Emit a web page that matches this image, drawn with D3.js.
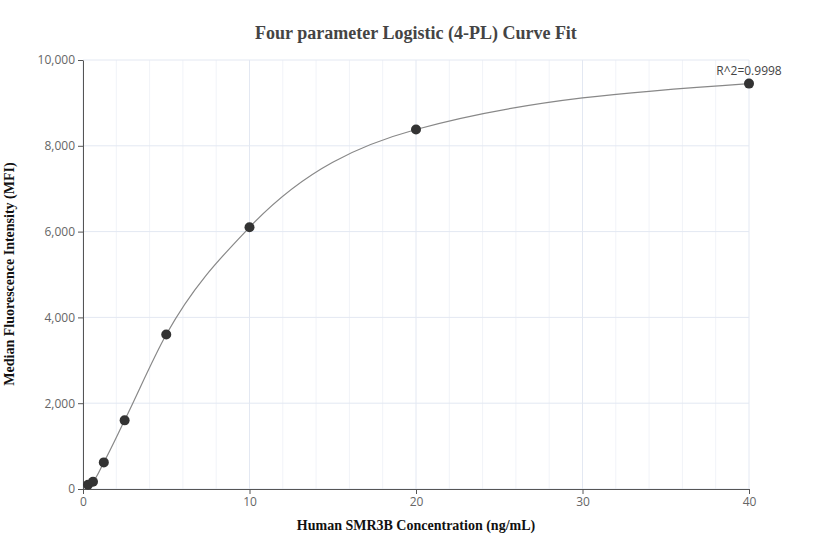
<!DOCTYPE html>
<html><head><meta charset="utf-8">
<script src="https://cdn.jsdelivr.net/npm/d3@7"></script>
<style>body{margin:0;background:#fff}</style></head>
<body><svg id="c" width="832" height="560"></svg>
<script>
const concentrations = [0.3, 0.6, 1.25, 2.5, 5, 10, 20, 40];
const mfi = [100, 170, 620, 1600, 3600, 6100, 8380, 9450];
const xTicks = [0, 10, 20, 30, 40];
const yTicks = [0, 2000, 4000, 6000, 8000, 10000];
const minorX = d3.range(0, 41, 2);
const title = "Four parameter Logistic (4-PL) Curve Fit";
const xTitle = "Human SMR3B Concentration (ng/mL)";
const yTitle = "Median Fluorescence Intensity (MFI)";
const r2 = "R^2=0.9998";

const svg = d3.select("#c");
const L=83,R=749,T=60,B=489;
const x = d3.scaleLinear().domain([0,40]).range([L,R]);
const y = d3.scaleLinear().domain([0,10000]).range([B,T]);

svg.append("g").selectAll("line").data(minorX).join("line")
 .attr("x1",d=>x(d)).attr("x2",d=>x(d)).attr("y1",T).attr("y2",B)
 .attr("stroke",d=>d%10===0?"#e3e8f2":"#f1f3f8");
svg.append("g").selectAll("line").data(yTicks).join("line")
 .attr("x1",L).attr("x2",R).attr("y1",d=>y(d)).attr("y2",d=>y(d)).attr("stroke","#e3e8f2");

const gx = svg.append("g").attr("transform",`translate(0,${B})`)
 .call(d3.axisBottom(x).tickValues(xTicks).tickSize(5).tickSizeOuter(0));
const gy = svg.append("g").attr("transform",`translate(${L},0)`)
 .call(d3.axisLeft(y).tickValues(yTicks).tickFormat(d3.format(",")).tickSize(5).tickSizeOuter(0));
[gx,gy].forEach(g=>{g.selectAll("path,line").attr("stroke","#555");
 g.selectAll("text").attr("fill","#666").style("font-family","Open Sans, sans-serif").style("font-size","12px");});

const pts = concentrations.map((c,i)=>[c,mfi[i]]);
svg.append("path").datum(pts).attr("fill","none").attr("stroke","#888").attr("stroke-width",1.2)
 .attr("d",d3.line().x(d=>x(d[0])).y(d=>y(d[1])).curve(d3.curveMonotoneX));
svg.append("g").selectAll("circle").data(pts).join("circle")
 .attr("cx",d=>x(d[0])).attr("cy",d=>y(d[1])).attr("r",5).attr("fill","#333");

svg.append("text").attr("x",x(40)).attr("y",y(9450)-9).attr("text-anchor","middle")
 .attr("fill","#444").style("font-family","Open Sans, sans-serif").style("font-size","12px").text(r2);
svg.append("text").attr("x",416).attr("y",39).attr("text-anchor","middle").attr("fill","#444")
 .style("font-family","Liberation Serif, serif").style("font-size","18px").style("font-weight","bold").text(title);
svg.append("text").attr("x",416).attr("y",530).attr("text-anchor","middle").attr("fill","#111")
 .style("font-family","Liberation Serif, serif").style("font-size","14px").style("font-weight","bold").text(xTitle);
svg.append("text").attr("transform","translate(14,274) rotate(-90)").attr("text-anchor","middle").attr("fill","#111")
 .style("font-family","Liberation Serif, serif").style("font-size","14px").style("font-weight","bold").text(yTitle);
</script></body></html>
